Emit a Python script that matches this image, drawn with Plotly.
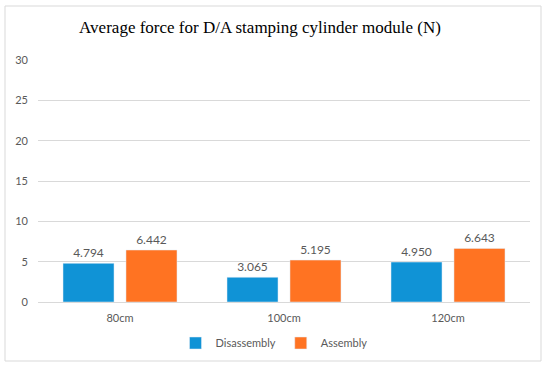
import plotly.graph_objects as go

categories = ["80cm", "100cm", "120cm"]
disassembly = [4.794, 3.065, 4.950]
assembly = [6.442, 5.195, 6.643]
y_ticks = [0, 5, 10, 15, 20, 25, 30]

L, R, T, B = 38, 20, 60, 65
W, H = 550, 367
pw, ph = W - L - R, H - T - B

def px(x):
    return (x - L) / pw

def py(y):
    return (H - B - y) / ph

fig = go.Figure()
fig.add_trace(go.Bar(
    x=categories, y=disassembly, name="Disassembly",
    marker=dict(color="#1093d6"),
    text=[f"{v:.3f}" for v in disassembly], textposition="outside",
    textfont=dict(family="Lato", size=12, color="#595959"),
    cliponaxis=False,
))
fig.add_trace(go.Bar(
    x=categories, y=assembly, name="Assembly",
    marker=dict(color="#ff7322"),
    text=[f"{v:.3f}" for v in assembly], textposition="outside",
    textfont=dict(family="Lato", size=12, color="#595959"),
    cliponaxis=False,
))

fig.update_layout(
    width=W, height=H,
    margin=dict(l=L, r=R, t=T, b=B, autoexpand=False),
    paper_bgcolor="white", plot_bgcolor="white",
    barmode="group", bargap=0.232, bargroupgap=0.19,
    title=dict(text="Average force for D/A stamping cylinder module (N)",
               font=dict(family="Liberation Serif", size=17, color="black"),
               x=px(260), xref="paper", xanchor="center",
               y=1 - 27 / H, yref="container", yanchor="middle"),
    font=dict(family="Lato", size=11, color="#595959"),
    showlegend=True,
    legend=dict(orientation="h", x=px(274), xanchor="center",
                y=py(343), yanchor="middle",
                font=dict(family="Lato", size=11, color="#595959"),
                itemwidth=30, bgcolor="rgba(0,0,0,0)"),
    xaxis=dict(showgrid=False, showline=False, ticks="",
               ticklabelstandoff=8,
               tickfont=dict(family="Lato", size=11, color="#595959")),
    yaxis=dict(range=[0, 30], tickvals=y_ticks, showgrid=True,
               gridcolor="#d9d9d9", gridwidth=1, zeroline=True,
               zerolinecolor="#d9d9d9", zerolinewidth=1, showline=False,
               ticks="", ticklen=0, ticklabelstandoff=9,
               tickfont=dict(family="Lato", size=11, color="#595959")),
    shapes=[dict(type="rect", xref="paper", yref="paper",
                 x0=px(5), x1=px(541), y0=py(361), y1=py(6),
                 line=dict(color="#d9d9d9", width=1), fillcolor="rgba(0,0,0,0)",
                 layer="below")],
)

fig.write_html("out.html",
               config={"displayModeBar": False},
               post_script="document.body.style.margin='0';document.body.style.overflow='hidden';")
